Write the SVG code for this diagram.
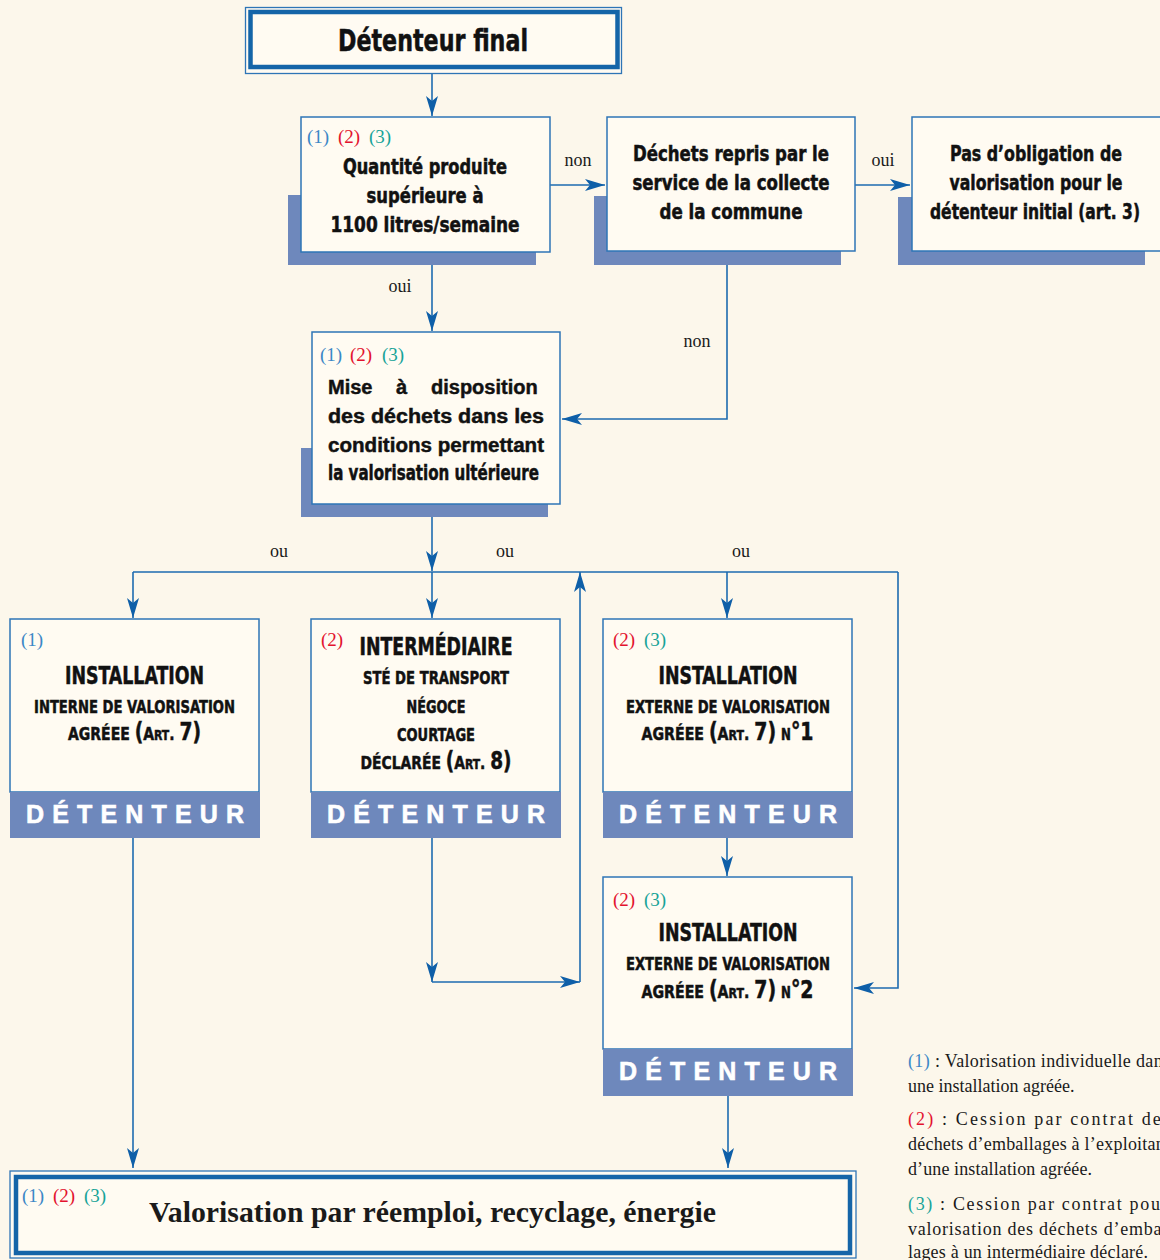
<svg xmlns="http://www.w3.org/2000/svg" width="1160" height="1260" viewBox="0 0 1160 1260">
<style>
.box{fill:#FFFBF2;stroke:#2E75B6;stroke-width:1.5}
.shadow{fill:#6E88BC}
.band{fill:#6E88BC}
.dbl{fill:none;stroke:#1565A8;stroke-width:4.5}
.cn{font-family:"Liberation Sans Narrow","DejaVu Sans Condensed","Liberation Sans",sans-serif;font-weight:bold;fill:#111;stroke:#111;stroke-width:0.5}
.mid{text-anchor:middle}
.hv{font-family:"Liberation Sans","DejaVu Sans",sans-serif;font-weight:bold;fill:#111;stroke:#111;stroke-width:0.45}
.sf{font-family:"Liberation Serif","DejaVu Serif",serif;fill:#1a1a1a}
.c1{fill:#3B87C6}.c2{fill:#E3122E}.c3{fill:#17A398}
.num{font-family:"Liberation Serif","DejaVu Serif",serif;font-size:19px}
.det{font-family:"Liberation Sans","DejaVu Sans",sans-serif;font-weight:bold;font-size:25px;fill:#FFFFFF;stroke:#FFFFFF;stroke-width:0.6;text-anchor:middle}
.conn path{fill:none;stroke:#1D6BB0;stroke-width:1.6}
.arr{marker-end:url(#ah)}
</style>
<defs>
<marker id="ah" markerUnits="userSpaceOnUse" markerWidth="22" markerHeight="14" refX="20" refY="6" orient="auto">
<path d="M0,0 L20,6 L0,12 L5,6 Z" fill="#0E5FA8"/>
</marker>
</defs>
<rect x="0" y="0" width="1160" height="1260" fill="#FCF7EB"/>

<g id="connectors" class="conn">
<path class="arr" d="M432,73 V116"/>
<path class="arr" d="M550,185 H605"/>
<path class="arr" d="M855,185 H910"/>
<path class="arr" d="M432,265 V331"/>
<path class="arr" d="M727,265 V419 H562"/>
<path class="arr" d="M432,517 V571"/>
<path d="M133,572 H898"/>
<path class="arr" d="M133,572 V618"/>
<path class="arr" d="M432,572 V618"/>
<path class="arr" d="M727,572 V618"/>
<path class="arr" d="M898,572 V988 H854"/>
<path class="arr" d="M432,838 V982"/>
<path class="arr" d="M432,982 H580"/>
<path class="arr" d="M580,982 V572"/>
<path class="arr" d="M727,838 V876"/>
<path class="arr" d="M133,838 V1168"/>
<path class="arr" d="M728,1096 V1168"/>
<text class="sf" x="578" y="166" font-size="18" text-anchor="middle">non</text>
<text class="sf" x="883" y="166" font-size="18" text-anchor="middle">oui</text>
<text class="sf" x="400" y="292" font-size="18" text-anchor="middle">oui</text>
<text class="sf" x="697" y="347" font-size="18" text-anchor="middle">non</text>
<text class="sf" x="279" y="557" font-size="18" text-anchor="middle">ou</text>
<text class="sf" x="505" y="557" font-size="18" text-anchor="middle">ou</text>
<text class="sf" x="741" y="557" font-size="18" text-anchor="middle">ou</text>
</g>

<g id="n-detenteur-final">
<rect x="245.5" y="7.5" width="376" height="66" fill="#FFFBF2" stroke="#2E75B6" stroke-width="1.3"/>
<rect x="250.5" y="12" width="367" height="55" class="dbl"/>
<text class="cn mid" x="433" y="51" font-size="30" textLength="190" lengthAdjust="spacingAndGlyphs">Détenteur final</text>
</g>

<g id="n-quantite">
<rect class="shadow" x="288" y="195" width="248" height="70"/>
<rect class="box" x="301" y="117" width="249" height="135"/>
<text class="num" y="143"><tspan class="c1" x="307">(1)</tspan><tspan class="c2" x="338">(2)</tspan><tspan class="c3" x="369">(3)</tspan></text>
<text class="cn mid" x="425" y="174" font-size="21" textLength="164" lengthAdjust="spacingAndGlyphs">Quantité produite</text>
<text class="cn mid" x="425" y="203" font-size="21" textLength="117" lengthAdjust="spacingAndGlyphs">supérieure à</text>
<text class="cn mid" x="425" y="232" font-size="21" textLength="189" lengthAdjust="spacingAndGlyphs">1100 litres/semaine</text>
</g>

<g id="n-dechets-repris">
<rect class="shadow" x="594" y="196" width="247" height="69"/>
<rect class="box" x="607" y="117" width="248" height="134"/>
<text class="cn mid" x="731" y="161" font-size="21" textLength="196" lengthAdjust="spacingAndGlyphs">Déchets repris par le</text>
<text class="cn mid" x="731" y="190" font-size="21" textLength="197" lengthAdjust="spacingAndGlyphs">service de la collecte</text>
<text class="cn mid" x="731" y="219" font-size="21" textLength="143" lengthAdjust="spacingAndGlyphs">de la commune</text>
</g>

<g id="n-pas-obligation">
<rect class="shadow" x="898" y="197" width="247" height="68"/>
<rect class="box" x="912" y="117" width="260" height="134"/>
<text class="cn mid" x="1036" y="161" font-size="21" textLength="172" lengthAdjust="spacingAndGlyphs">Pas d’obligation de</text>
<text class="cn mid" x="1036" y="190" font-size="21" textLength="173" lengthAdjust="spacingAndGlyphs">valorisation pour le</text>
<text class="cn mid" x="1035" y="219" font-size="21" textLength="210" lengthAdjust="spacingAndGlyphs">détenteur initial (art. 3)</text>
</g>

<g id="n-mise-disposition">
<rect class="shadow" x="301" y="448" width="247" height="69"/>
<rect class="box" x="312" y="332" width="248" height="172"/>
<text class="num" y="361"><tspan class="c1" x="320">(1)</tspan><tspan class="c2" x="350">(2)</tspan><tspan class="c3" x="382">(3)</tspan></text>
<text class="hv" font-size="20" y="394"><tspan x="328">Mise</tspan><tspan x="396">à</tspan><tspan x="431">disposition</tspan></text>
<text class="hv" x="328" y="423" font-size="20" textLength="216" lengthAdjust="spacingAndGlyphs">des déchets dans les</text>
<text class="hv" x="328" y="452" font-size="20" textLength="216" lengthAdjust="spacingAndGlyphs">conditions permettant</text>
<text class="cn" x="328" y="480" font-size="21" textLength="211" lengthAdjust="spacingAndGlyphs">la valorisation ultérieure</text>
</g>

<g id="n-installation-interne">
<rect class="box" x="10" y="619" width="249" height="173"/>
<rect class="band" x="10" y="792" width="250" height="46"/>
<text class="num c1" x="21" y="646">(1)</text>
<text class="cn mid" x="134.5" y="684" font-size="24" textLength="139" lengthAdjust="spacingAndGlyphs">INSTALLATION</text>
<text class="cn mid" x="134.5" y="713" font-size="18" textLength="201" lengthAdjust="spacingAndGlyphs">INTERNE DE VALORISATION</text>
<text class="cn mid" x="134.5" y="740" font-size="18" textLength="133" lengthAdjust="spacingAndGlyphs">AGRÉEE <tspan font-size="24">(</tspan>A<tspan font-size="14">RT</tspan>. <tspan font-size="24">7)</tspan></text>
<text class="det" x="135" y="823" textLength="218" lengthAdjust="spacing">DÉTENTEUR</text>
</g>

<g id="n-intermediaire">
<rect class="box" x="311" y="619" width="249" height="173"/>
<rect class="band" x="311" y="792" width="250" height="46"/>
<text class="num c2" x="321" y="646">(2)</text>
<text class="cn mid" x="436" y="655" font-size="24" textLength="153" lengthAdjust="spacingAndGlyphs">INTERMÉDIAIRE</text>
<text class="cn mid" x="436" y="684" font-size="18" textLength="146" lengthAdjust="spacingAndGlyphs">STÉ DE TRANSPORT</text>
<text class="cn mid" x="436" y="713" font-size="18" textLength="59" lengthAdjust="spacingAndGlyphs">NÉGOCE</text>
<text class="cn mid" x="436" y="741" font-size="18" textLength="78" lengthAdjust="spacingAndGlyphs">COURTAGE</text>
<text class="cn mid" x="436" y="769" font-size="18" textLength="151" lengthAdjust="spacingAndGlyphs">DÉCLARÉE <tspan font-size="24">(</tspan>A<tspan font-size="14">RT</tspan>. <tspan font-size="24">8)</tspan></text>
<text class="det" x="436" y="823" textLength="218" lengthAdjust="spacing">DÉTENTEUR</text>
</g>

<g id="n-installation-externe-1">
<rect class="box" x="603" y="619" width="249" height="173"/>
<rect class="band" x="603" y="792" width="250" height="46"/>
<text class="num" y="646"><tspan class="c2" x="613">(2)</tspan><tspan class="c3" x="644">(3)</tspan></text>
<text class="cn mid" x="728" y="684" font-size="24" textLength="139" lengthAdjust="spacingAndGlyphs">INSTALLATION</text>
<text class="cn mid" x="728" y="713" font-size="18" textLength="204" lengthAdjust="spacingAndGlyphs">EXTERNE DE VALORISATION</text>
<text class="cn mid" x="727.5" y="740" font-size="18" textLength="172" lengthAdjust="spacingAndGlyphs">AGRÉEE <tspan font-size="24">(</tspan>A<tspan font-size="14">RT</tspan>. <tspan font-size="24">7)</tspan> <tspan font-size="15">N</tspan><tspan font-size="24">°1</tspan></text>
<text class="det" x="728" y="823" textLength="218" lengthAdjust="spacing">DÉTENTEUR</text>
</g>

<g id="n-installation-externe-2">
<rect class="box" x="603" y="877" width="249" height="172"/>
<rect class="band" x="603" y="1049" width="250" height="47"/>
<text class="num" y="906"><tspan class="c2" x="613">(2)</tspan><tspan class="c3" x="644">(3)</tspan></text>
<text class="cn mid" x="728" y="941" font-size="24" textLength="139" lengthAdjust="spacingAndGlyphs">INSTALLATION</text>
<text class="cn mid" x="728" y="970" font-size="18" textLength="204" lengthAdjust="spacingAndGlyphs">EXTERNE DE VALORISATION</text>
<text class="cn mid" x="727.5" y="998" font-size="18" textLength="172" lengthAdjust="spacingAndGlyphs">AGRÉEE <tspan font-size="24">(</tspan>A<tspan font-size="14">RT</tspan>. <tspan font-size="24">7)</tspan> <tspan font-size="15">N</tspan><tspan font-size="24">°2</tspan></text>
<text class="det" x="728" y="1080" textLength="218" lengthAdjust="spacing">DÉTENTEUR</text>
</g>

<g id="n-valorisation">
<rect x="10" y="1171" width="846" height="87" fill="#FFFBF2" stroke="#2E75B6" stroke-width="1.3"/>
<rect x="16" y="1177" width="834" height="76" class="dbl"/>
<text class="num" y="1202"><tspan class="c1" x="22">(1)</tspan><tspan class="c2" x="53">(2)</tspan><tspan class="c3" x="84">(3)</tspan></text>
<text class="sf" x="149" y="1222" font-size="30" font-weight="bold" fill="#111" textLength="567" lengthAdjust="spacingAndGlyphs">Valorisation par réemploi, recyclage, énergie</text>
</g>

<g id="legend" class="sf" font-size="18">
<text x="908" y="1067" textLength="262" lengthAdjust="spacing"><tspan class="c1">(1)</tspan> : Valorisation individuelle dans</text>
<text x="908" y="1092">une installation agréée.</text>
<text x="908" y="1125" textLength="262" lengthAdjust="spacing"><tspan class="c2">(2)</tspan> : Cession par contrat des</text>
<text x="908" y="1150" textLength="262" lengthAdjust="spacing">déchets d’emballages à l’exploitant</text>
<text x="908" y="1175" textLength="184" lengthAdjust="spacing">d’une installation agréée.</text>
<text x="908" y="1210" textLength="282" lengthAdjust="spacing"><tspan class="c3">(3)</tspan> : Cession par contrat pour la</text>
<text x="908" y="1235" textLength="266" lengthAdjust="spacing">valorisation des déchets d’embal-</text>
<text x="908" y="1258" textLength="240" lengthAdjust="spacing">lages à un intermédiaire déclaré.</text>
</g>
</svg>
